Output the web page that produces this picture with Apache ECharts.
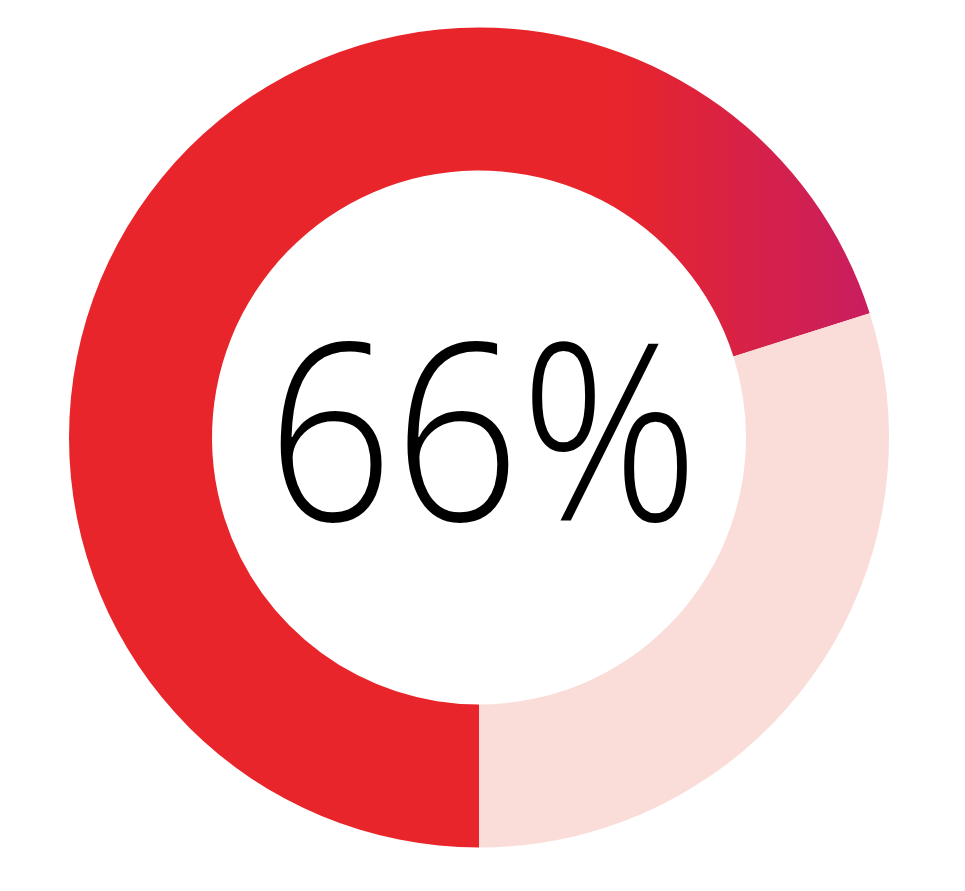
<!DOCTYPE html>
<html>
<head>
<meta charset="utf-8">
<script src="https://cdn.jsdelivr.net/npm/echarts@6/dist/echarts.min.js"></script>
<style>html,body{margin:0;padding:0;background:#fff;}#c{width:965px;height:891px;}</style>
</head>
<body>
<div id="c"></div>
<script>
const categories = ['Achieved', 'Remaining'];
const values = [70.1, 29.9];
const centerLabel = '66%';

const chart = echarts.init(document.getElementById('c'), null, {renderer: 'canvas'});
const colors = [
  {type: 'linear', x: 610, y: 0, x2: 872, y2: 0, global: true,
   colorStops: [{offset: 0, color: '#E8252A'}, {offset: 1, color: '#C81E60'}]},
  '#FADCD9'
];
chart.setOption({
  animation: false,
  series: [{
    type: 'pie',
    center: [479, 437.5],
    radius: [267, 410],
    startAngle: 270,
    clockwise: true,
    label: {show: false},
    labelLine: {show: false},
    silent: true,
    data: categories.map((n, i) => ({name: n, value: values[i], itemStyle: {color: colors[i]}}))
  }],
  graphic: [{
    type: 'text',
    x: 483,
    y: 450,
    scaleX: 0.895,
    scaleY: 1,
    style: {
      text: centerLabel,
      x: 0,
      y: 0,
      align: 'center',
      verticalAlign: 'middle',
      fontFamily: 'Open Sans',
      fontWeight: 300,
      fontSize: 248,
      fill: '#000'
    }
  }]
});
</script>
</body>
</html>
